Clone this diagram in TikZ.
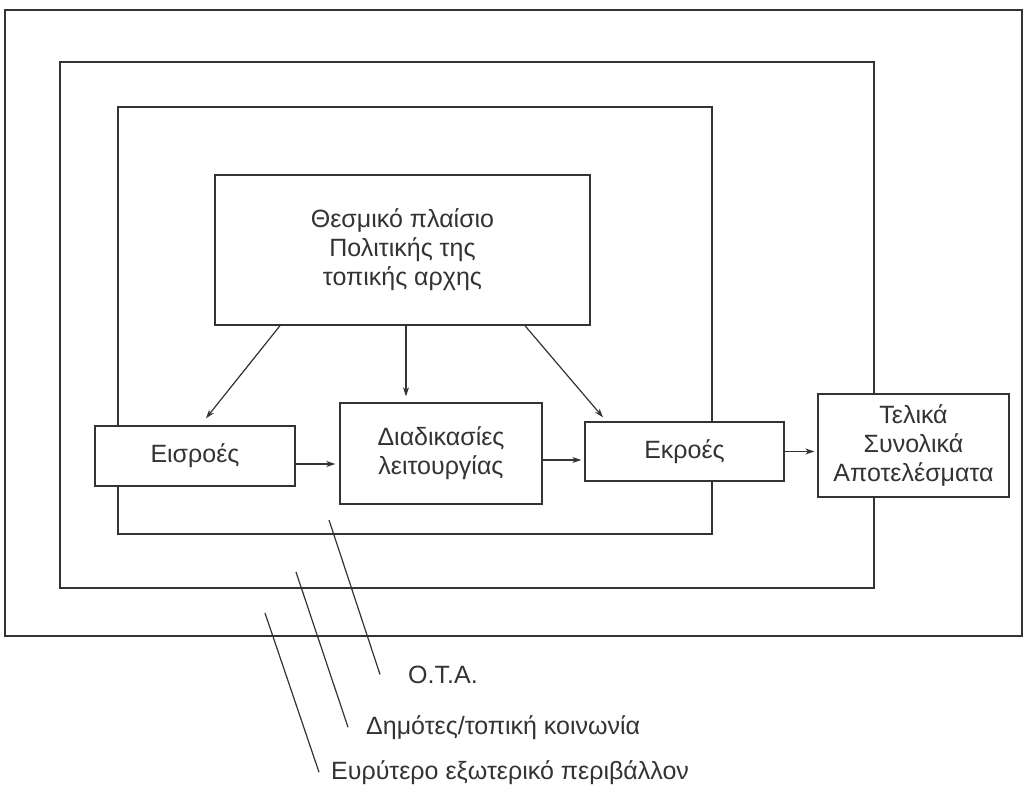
\documentclass[tikz,border=0pt]{standalone}
\usepackage{fontspec}
\setmainfont{Liberation Sans}
\usetikzlibrary{arrows.meta}

\def\outerframe{(5,10) rectangle (1022,636)}
\def\middleframe{(60,62) rectangle (874,588)}
\def\innerframe{(118,107) rectangle (712,534)}

\tikzset{
  box/.style={draw, fill=white, line width=1.4pt, align=center, inner sep=0pt},
  flow/.style={-{Stealth[length=9pt,width=6pt]}, line width=1.2pt},
  pointer/.style={line width=1.2pt},
  tag/.style={anchor=base west, inner sep=0pt}
}

\begin{document}
\begin{tikzpicture}[x=1pt, y=-1pt, color=black!80,
                    font=\fontsize{25}{29}\selectfont]
  \useasboundingbox (0,0) rectangle (1026,789);
  \draw[line width=1.4pt] \outerframe;
  \draw[line width=1.4pt] \middleframe;
  \draw[line width=1.4pt] \innerframe;

  \node[box, minimum width=375pt, minimum height=150pt] (polit) at (402.5,250)
    {Θεσμικό πλαίσιο\\Πολιτικής της\\τοπικής αρχης};
  \node[box, minimum width=200pt, minimum height=60pt] (eisroes) at (195,456) {Εισροές};
  \node[box, minimum width=202pt, minimum height=101pt] (diad) at (441,453.5)
    {Διαδικασίες\\λειτουργίας};
  \node[box, minimum width=199pt, minimum height=59pt] (ekroes) at (684.5,451.5) {Εκροές};
  \node[box, minimum width=191pt, minimum height=103pt] (telika) at (913.5,445.5)
    {Τελικά\\Συνολικά\\Αποτελέσματα};

  \draw[flow] ([xshift=-122.5pt]polit.south) -- ([xshift=11pt,yshift=7pt]eisroes.north);
  \draw[flow, shorten >=6pt] ([xshift=3.5pt]polit.south) -- ([xshift=3.5pt]polit.south |- diad.north);
  \draw[flow] ([xshift=122.5pt]polit.south) -- ([xshift=-81.5pt,yshift=4pt]ekroes.north);

  \draw[flow, shorten >=4pt] ([yshift=-8pt]eisroes.east) -- ([yshift=-8pt]eisroes.east -| diad.west);
  \draw[flow, shorten >=3pt] ([yshift=-6.5pt]diad.east) -- ([yshift=-6.5pt]diad.east -| ekroes.west);
  \draw[flow, shorten >=3pt] (ekroes.east) -- (ekroes.east -| telika.west);

  % labels of the three frames
  \node[tag] (ota) at (408,683) {Ο.Τ.Α.};
  \node[tag] (dimotes) at (366,734) {Δημότες/τοπική κοινωνία};
  \node[tag] (evrytero) at (331,779) {Ευρύτερο εξωτερικό περιβάλλον};
  \coordinate (ota top) at (329,520);
  \coordinate (dimotes top) at (296,572);
  \coordinate (evrytero top) at (265,613);
  \draw[pointer] (ota top) -- ([xshift=-28pt]ota.west);
  \draw[pointer] (dimotes top) -- ([xshift=-18pt]dimotes.west);
  \draw[pointer] (evrytero top) -- ([xshift=-12pt]evrytero.west);
\end{tikzpicture}
\end{document}
